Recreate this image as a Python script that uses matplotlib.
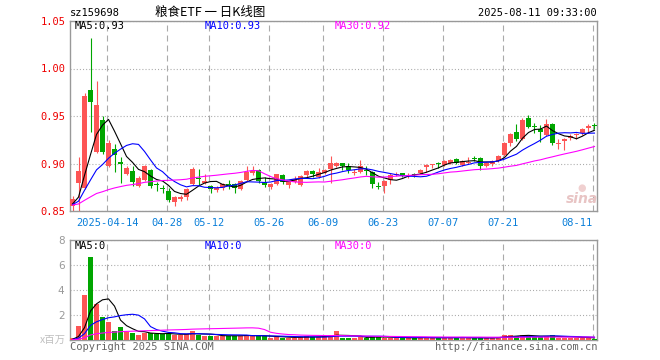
import numpy as np
import pandas as pd
import matplotlib
matplotlib.use('Agg')
import matplotlib.pyplot as plt

# trading days shown (88 sessions)
holidays = ['2025-04-04', '2025-05-01', '2025-05-02', '2025-05-05', '2025-06-02']
days = pd.bdate_range('2025-04-03', '2025-08-11')
days = days[~days.isin(pd.to_datetime(holidays))]

opens = [0.855, 0.879, 0.874, 0.977, 0.912, 0.946, 0.897, 0.915, 0.902, 0.889,
         0.892, 0.876, 0.883, 0.893, 0.878, 0.874, 0.871, 0.860, 0.863, 0.865,
         0.878, 0.885, 0.880, 0.876, 0.872, 0.874, 0.878, 0.878, 0.873, 0.883,
         0.890, 0.893, 0.881, 0.875, 0.878, 0.888, 0.877, 0.881, 0.877, 0.888,
         0.892, 0.886, 0.890, 0.894, 0.897, 0.900, 0.897, 0.890, 0.891, 0.893,
         0.891, 0.876, 0.876, 0.883, 0.888, 0.890, 0.887, 0.889, 0.890, 0.896,
         0.898, 0.900, 0.898, 0.901, 0.905, 0.898, 0.901, 0.906, 0.906, 0.897,
         0.900, 0.903, 0.909, 0.922, 0.933, 0.926, 0.948, 0.939, 0.936, 0.930,
         0.942, 0.921, 0.924, 0.927, 0.930, 0.932, 0.937, 0.940]
highs = [0.866, 0.907, 0.974, 1.032, 0.987, 0.950, 0.925, 0.921, 0.907, 0.897,
         0.897, 0.887, 0.898, 0.894, 0.881, 0.877, 0.874, 0.866, 0.867, 0.874,
         0.896, 0.894, 0.889, 0.877, 0.876, 0.879, 0.883, 0.879, 0.883, 0.897,
         0.897, 0.894, 0.886, 0.879, 0.889, 0.889, 0.882, 0.887, 0.888, 0.893,
         0.893, 0.895, 0.894, 0.908, 0.902, 0.901, 0.901, 0.894, 0.904, 0.897,
         0.892, 0.881, 0.883, 0.890, 0.891, 0.890, 0.890, 0.890, 0.894, 0.900,
         0.900, 0.902, 0.904, 0.905, 0.906, 0.904, 0.907, 0.908, 0.907, 0.902,
         0.904, 0.909, 0.923, 0.932, 0.942, 0.948, 0.951, 0.943, 0.941, 0.947,
         0.943, 0.926, 0.927, 0.931, 0.932, 0.937, 0.942, 0.943]
lows = [0.849, 0.849, 0.873, 0.933, 0.911, 0.910, 0.896, 0.891, 0.880, 0.888,
        0.876, 0.875, 0.882, 0.874, 0.871, 0.869, 0.860, 0.855, 0.861, 0.862,
        0.877, 0.877, 0.878, 0.869, 0.870, 0.872, 0.873, 0.869, 0.872, 0.882,
        0.888, 0.880, 0.875, 0.873, 0.877, 0.878, 0.874, 0.880, 0.876, 0.886,
        0.886, 0.885, 0.889, 0.880, 0.896, 0.893, 0.890, 0.888, 0.890, 0.888,
        0.874, 0.873, 0.869, 0.878, 0.887, 0.886, 0.885, 0.886, 0.889, 0.891,
        0.895, 0.895, 0.897, 0.900, 0.900, 0.897, 0.900, 0.903, 0.893, 0.896,
        0.897, 0.902, 0.908, 0.918, 0.924, 0.925, 0.937, 0.932, 0.923, 0.929,
        0.919, 0.915, 0.914, 0.925, 0.926, 0.930, 0.932, 0.936]
closes = [0.863, 0.892, 0.971, 0.965, 0.962, 0.912, 0.922, 0.909, 0.899, 0.895,
          0.881, 0.885, 0.897, 0.876, 0.877, 0.873, 0.862, 0.865, 0.865, 0.873,
          0.894, 0.884, 0.881, 0.873, 0.874, 0.878, 0.877, 0.874, 0.882, 0.891,
          0.892, 0.882, 0.877, 0.878, 0.889, 0.881, 0.881, 0.884, 0.887, 0.892,
          0.889, 0.891, 0.893, 0.900, 0.901, 0.897, 0.893, 0.891, 0.897, 0.892,
          0.878, 0.875, 0.882, 0.888, 0.889, 0.887, 0.888, 0.888, 0.893, 0.898,
          0.899, 0.899, 0.903, 0.904, 0.901, 0.903, 0.902, 0.905, 0.897, 0.901,
          0.903, 0.908, 0.922, 0.931, 0.926, 0.946, 0.938, 0.938, 0.933, 0.942,
          0.922, 0.922, 0.926, 0.929, 0.931, 0.936, 0.940, 0.939]
# volume, millions
volume = [0.20, 1.12, 3.60, 6.67, 2.88, 1.81, 1.47, 0.72, 1.07, 0.67,
          0.59, 0.40, 0.59, 0.53, 0.50, 0.50, 0.50, 0.40, 0.40, 0.50,
          0.75, 0.40, 0.35, 0.35, 0.30, 0.35, 0.35, 0.35, 0.35, 0.40,
          0.30, 0.35, 0.30, 0.20, 0.25, 0.20, 0.20, 0.20, 0.25, 0.30,
          0.25, 0.25, 0.30, 0.40, 0.72, 0.20, 0.20, 0.20, 0.25, 0.20,
          0.30, 0.25, 0.20, 0.20, 0.15, 0.20, 0.15, 0.20, 0.20, 0.20,
          0.15, 0.20, 0.20, 0.20, 0.20, 0.20, 0.15, 0.15, 0.20, 0.15,
          0.20, 0.25, 0.40, 0.40, 0.30, 0.40, 0.35, 0.25, 0.25, 0.30,
          0.40, 0.20, 0.20, 0.20, 0.20, 0.20, 0.20, 0.05]
# level of the sessions before the window (used to pad the moving averages)
pre_close = 0.856
pre_vol = 0.02

tick_dates = ['2025-04-14', '2025-04-28', '2025-05-12', '2025-05-26', '2025-06-09',
              '2025-06-23', '2025-07-07', '2025-07-21', '2025-08-11']
tick_labels = ['2025-04-14', '04-28', '05-12', '05-26', '06-09',
               '06-23', '07-07', '07-21', '08-11']

RED = '#fd5555'
GREEN = '#00a600'
GRID = '#aaaaaa'
MONO = 'DejaVu Sans Mono'
CJK = ['Noto Sans CJK SC', 'DejaVu Sans']

plt.rcParams['lines.scale_dashes'] = False

x = np.arange(len(closes))
o = np.array(opens)
c = np.array(closes)
up = c >= o
cols = np.where(up, RED, GREEN)


def mas(values, pad):
    s = pd.Series([pad] * 29 + list(values))
    return [s.rolling(n).mean().iloc[29:].values for n in (5, 10, 30)]


ma_p = mas(closes, pre_close)
ma_v = mas(volume, pre_vol)
ma_cols = ['black', '#0000ff', '#ff00ff']

fig = plt.figure(figsize=(6.6, 3.6), dpi=100)
W, H = 660, 360


def box(l, t, r, b):
    return [l / W, 1 - b / H, (r - l) / W, (b - t) / H]


ax = fig.add_axes(box(70, 21, 597, 211))
axv = fig.add_axes(box(70, 240, 597, 340))

tick_pos = [list(days.strftime('%Y-%m-%d')).index(d) - 0.25 for d in tick_dates]

for a in (ax, axv):
    a.set_xlim(-0.42, len(closes) - 0.58)
    a.set_axisbelow(True)
    for sp in a.spines.values():
        sp.set_color('#999999')
        sp.set_linewidth(1.0)
    a.set_xticks(tick_pos)
    a.xaxis.grid(True, color=GRID, lw=0.8, ls=(0, (4.3, 2.9)))
    a.yaxis.grid(True, color=GRID, lw=0.8, ls=(0, (0.75, 1.5)))
    a.tick_params(length=0)

# candles
ax.vlines(x, lows, highs, colors=cols, lw=0.8, zorder=2)
body = np.maximum(np.abs(c - o), 0.0011)
ax.bar(x, body, bottom=np.minimum(o, c), width=0.8, color=cols, lw=0, zorder=3)
for m, col in zip(ma_p, ma_cols):
    ax.plot(x, m, color=col, lw=0.8, zorder=4)
ax.set_ylim(0.85, 1.05)
ax.set_yticks([0.85, 0.90, 0.95, 1.00, 1.05])
ax.set_yticklabels(['%.2f' % v for v in [0.85, 0.90, 0.95, 1.00, 1.05]],
                   color='#ee0000', fontfamily=MONO, fontsize=7.5)
ax.tick_params(axis='y', pad=3)
ax.set_xticklabels(tick_labels, color='#0a7fd9', fontfamily=MONO, fontsize=7.5)
ax.tick_params(axis='x', pad=5)
ax.get_xticklabels()[-1].set_ha('right')

# volume
axv.bar(x, volume, width=0.8, color=cols, lw=0, zorder=3)
for m, col in zip(ma_v, ma_cols):
    axv.plot(x, m, color=col, lw=0.8, zorder=4)
axv.set_ylim(0, 8)
axv.set_yticks([0, 2, 4, 6, 8])
axv.set_yticklabels(['', '2', '4', '6', '8'], color='#999999', fontsize=7.5)
axv.tick_params(axis='y', pad=4)
axv.set_xticklabels([])


def ftext(px, py, s, **kw):
    fig.text(px / W, 1 - py / H, s, va='center', **kw)


ftext(70, 12.5, 'sz159698', fontfamily=MONO, fontsize=7.5)
ftext(210, 12.5, '粮食ETF 一 日K线图', ha='center', family=CJK, fontsize=9)
ftext(597, 12.5, '2025-08-11 09:33:00', ha='right', fontfamily=MONO, fontsize=7.5)

ftext(75, 26, 'MA5:0.93', fontfamily=MONO, fontsize=7.5, color='black')
ftext(205, 26, 'MA10:0.93', fontfamily=MONO, fontsize=7.5, color='#0000ff')
ftext(335, 26, 'MA30:0.92', fontfamily=MONO, fontsize=7.5, color='#ff00ff')
ftext(75, 246, 'MA5:0', fontfamily=MONO, fontsize=7.5, color='black')
ftext(205, 246, 'MA10:0', fontfamily=MONO, fontsize=7.5, color='#0000ff')
ftext(335, 246, 'MA30:0', fontfamily=MONO, fontsize=7.5, color='#ff00ff')

ftext(66, 340, 'x百万', ha='right', family=CJK, fontsize=7.5, color='#c0c0c0')
ftext(70, 347, 'Copyright 2025 SINA.COM', fontfamily=MONO, fontsize=7.5, color='#666666')
ftext(597, 347, 'http://finance.sina.com.cn', ha='right', fontfamily=MONO,
      fontsize=7.5, color='#666666')

# faint sina watermark
ftext(582, 199, 'sina', ha='center', fontsize=10, fontweight='bold',
      fontstyle='italic', color='#e8c4c4')
ftext(582, 188, '●', ha='center', fontsize=7, color='#f0d0d0')

fig.savefig('out.png', dpi=100)
